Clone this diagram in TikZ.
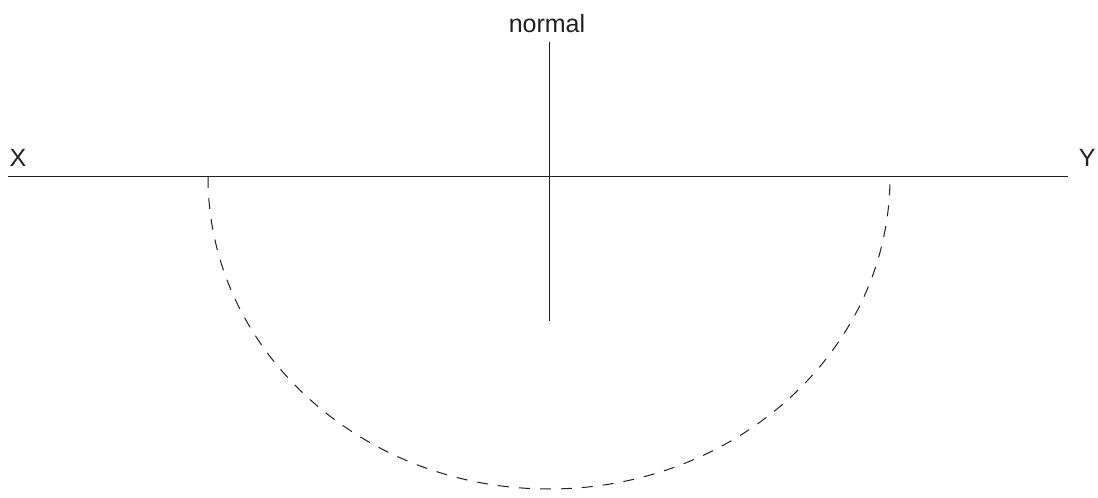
\documentclass[tikz,border=0pt]{standalone}
\usepackage{fontspec}
\setmainfont{Liberation Sans}
\definecolor{ink}{RGB}{35,31,32}

\tikzset{
    lbl/.style={inner sep=0pt,text=ink,font=\fontsize{25}{30}\selectfont}
}

\begin{document}
\begin{tikzpicture}[x=1pt,y=1pt,line width=1pt,draw=ink]

        % ============================================
        % FRAME
        % ============================================
        \useasboundingbox (0,0) rectangle (1098,498);

        % Coordinates
        \coordinate (O) at (549,321);      % point of incidence
        \coordinate (L) at (8,321);        % left end of surface
        \coordinate (R) at (1068,321);     % right end of surface
        \coordinate (N_top) at (549,456);  % top of the normal
        \coordinate (N_bot) at (549,177);  % bottom of the normal
        \coordinate (A_left) at (208,321); % start of the dashed arc

        % Surface XY
        \draw[ink] (L) -- (R);
        \node[lbl,anchor=base west] (lblX) at (9,331) {X};
        \node[lbl,anchor=base east] (lblY) at (1096,331) {Y};

        % Normal
        \draw[ink] (N_top) -- (N_bot);
        \node[lbl,anchor=base] (lblN) at (547,465) {normal};

        % Dashed semi-ellipse below the surface
        \draw[ink,dash pattern=on 11pt off 10pt] (A_left) arc[start angle=180,end angle=360,x radius=341,y radius=312];

\end{tikzpicture}
\end{document}
